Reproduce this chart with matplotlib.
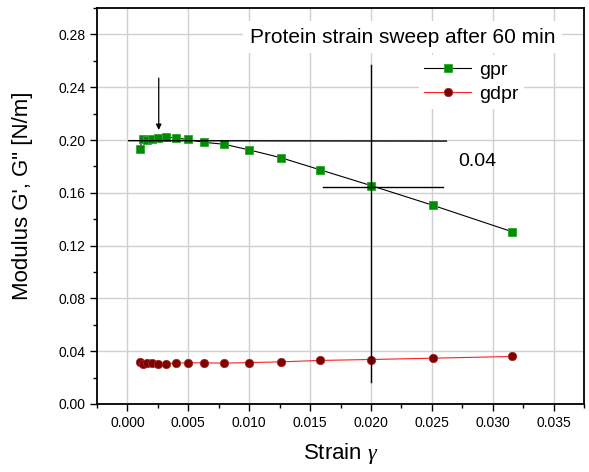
import matplotlib
matplotlib.use("Agg")
import matplotlib.pyplot as plt
from matplotlib.ticker import MultipleLocator

plt.rcParams['font.family'] = ['Liberation Sans', 'DejaVu Sans']
plt.rcParams['mathtext.fontset'] = 'custom'
plt.rcParams['mathtext.rm'] = 'Liberation Sans'
plt.rcParams['mathtext.it'] = 'Liberation Serif:italic'

strain = [0.00100, 0.00126, 0.00158, 0.00200, 0.00251, 0.00316, 0.00398, 0.00501,
          0.00631, 0.00794, 0.0100, 0.0126, 0.0158, 0.0200, 0.0251, 0.0316]
gpr = [0.1935, 0.2010, 0.2002, 0.2010, 0.2017, 0.2025, 0.2015, 0.2004,
       0.1982, 0.1968, 0.1925, 0.1866, 0.1775, 0.1655, 0.1505, 0.1305]
gdpr = [0.0317, 0.0305, 0.0314, 0.0310, 0.0305, 0.0305, 0.0310, 0.0312,
        0.0312, 0.0309, 0.0314, 0.0319, 0.0330, 0.0337, 0.0347, 0.0360]

fig = plt.figure(figsize=(5.89, 4.72), dpi=100)
ax = fig.add_axes([0.1647, 0.1441, 0.8268, 0.8389])

ax.plot(strain, gpr, color='black', lw=0.8, marker='s', ms=5.5,
        mfc='#008c00', mec='#2aa82a', mew=0.6, label='gpr', zorder=3)
ax.plot(strain, gdpr, color='#ff2020', lw=0.8, marker='o', ms=6,
        mfc='#800000', mec='#9a2a2a', mew=0.6, label='gdpr', zorder=3)

# guide lines drawn on the original
ax.plot([0.0001, 0.0262], [0.1995, 0.1992], color='black', lw=1.0, zorder=4)
ax.plot([0.0161, 0.0259], [0.1645, 0.1645], color='black', lw=1.0, zorder=4)
ax.plot([0.0200, 0.0200], [0.0168, 0.257], color='black', lw=1.0, zorder=4)
ax.annotate('', xy=(0.00257, 0.2055), xytext=(0.00257, 0.249),
            arrowprops=dict(arrowstyle='-|>', color='black', lw=0.9,
                            mutation_scale=8), zorder=5)
ax.text(0.0272, 0.184, '0.04', fontsize=14, va='center', ha='left')

ax.set_xlim(-0.0025, 0.0375)
ax.set_ylim(0, 0.30)
ax.xaxis.set_minor_locator(MultipleLocator(0.0025))
ax.yaxis.set_minor_locator(MultipleLocator(0.02))
ax.set_xticks([0.000, 0.005, 0.010, 0.015, 0.020, 0.025, 0.030, 0.035])
ax.set_xticklabels(['0.000', '0.005', '0.010', '0.015', '0.020', '0.025', '0.030', '0.035'])
ax.set_yticks([0.00, 0.04, 0.08, 0.12, 0.16, 0.20, 0.24, 0.28])
ax.set_yticklabels(['0.00', '0.04', '0.08', '0.12', '0.16', '0.20', '0.24', '0.28'])
ax.tick_params(which='both', direction='out', top=False, right=False, labelsize=10,
               width=1.0)
ax.tick_params(which='major', length=5)
ax.tick_params(which='minor', length=3)
ax.grid(True, which='major', color='#d0d0d0', lw=1.0)
ax.set_axisbelow(True)
for s in ax.spines.values():
    s.set_linewidth(1.3)

ax.set_xlabel(r'Strain $\gamma$', fontsize=16, va='center')
ax.xaxis.set_label_coords(0.5, -0.124)
ax.set_ylabel("Modulus G', G\" [N/m]", fontsize=16, va='center')
ax.yaxis.set_label_coords(-0.154, 0.525)

ax.text(0.03516, 0.278, 'Protein strain sweep after 60 min', fontsize=15,
        ha='right', va='center', zorder=6,
        bbox=dict(facecolor='white', edgecolor='none', pad=5))
leg = ax.legend(loc='upper right', bbox_to_anchor=(0.897, 0.905), fontsize=14,
                frameon=True, framealpha=1, edgecolor='none', fancybox=False,
                handlelength=2.4, handletextpad=0.4, labelspacing=0.35,
                borderpad=0.3)
leg.set_zorder(6)

fig.savefig('out.png', dpi=100)
